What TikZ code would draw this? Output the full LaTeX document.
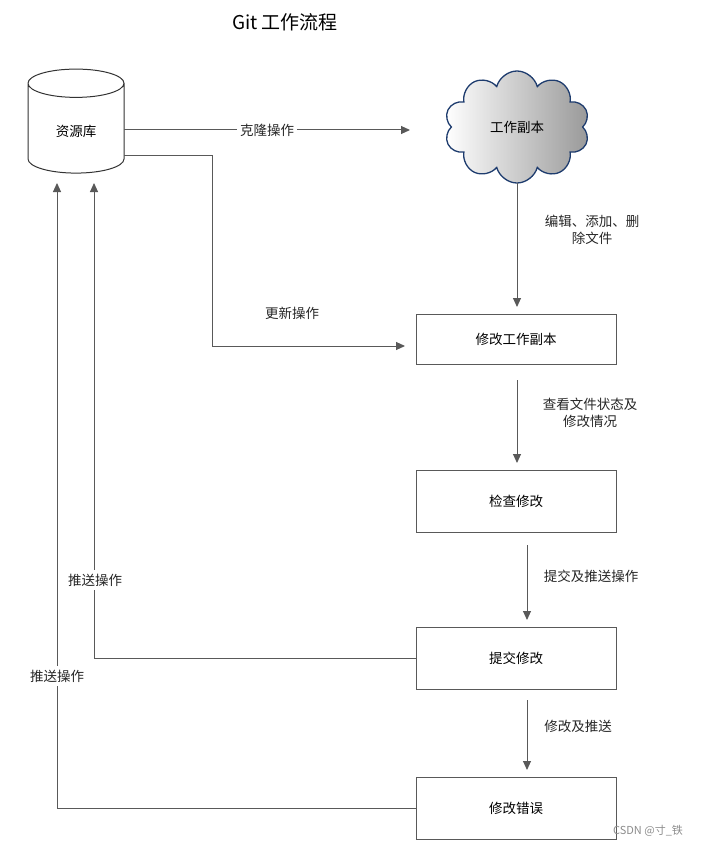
\documentclass[tikz,border=0pt]{standalone}
\usepackage{fontspec}
\setmainfont{Noto Sans CJK SC}
\usetikzlibrary{shapes.geometric,shapes.symbols,arrows.meta}
\begin{document}
\begin{tikzpicture}[x=1pt,y=-1pt,
  lbl/.style={font=\fontsize{13.5}{17}\selectfont,align=center,text=black!85},
  box/.style={draw=black!65,line width=0.8pt,minimum width=200pt,minimum height=62pt,font=\fontsize{13.5}{17}\selectfont},
  arr/.style={draw=black!65,line width=1pt,-{Triangle[length=9pt,width=8pt]}}]
\useasboundingbox (0,0) rectangle (709,848);
\node[font=\fontsize{19}{22}\selectfont] (title) at (285,22) {Git 工作流程};
\node[cylinder,shape border rotate=90,draw=black!80,line width=1pt,minimum width=96pt,minimum height=104pt,aspect=0.6,font=\fontsize{13.5}{17}\selectfont] (repo) at (76,131) {资源库};
\node[cloud,cloud puffs=10,aspect=1.25,draw={rgb,255:red,30;green,60;blue,110},line width=1.3pt,left color=white,right color=black!40,minimum width=145pt,minimum height=112pt,font=\fontsize{13.5}{17}\selectfont] (cloud) at (517,127) {工作副本};
\node[box,minimum height=50pt] (b1) at (516,339) {修改工作副本};
\node[box] (b2) at (516,501) {检查修改};
\node[box] (b3) at (516,658) {提交修改};
\node[box] (b4) at (516,808) {修改错误};
\coordinate (c1) at (410,130);
\draw[arr] (124,130) -- node[lbl,fill=white]{克隆操作} (c1);
\coordinate (u1) at (212,155);
\coordinate (u2) at (212,346);
\coordinate (u3) at (405,346);
\draw[arr] (124,155) -- (u1) -- (u2) -- (u3);
\node[lbl] (ul) at (292,313) {更新操作};
\draw[arr] (517,183) -- (517,307);
\node[lbl] (l1) at (592,230) {编辑、添加、删\\除文件};
\draw[arr] (517,380) -- (517,463);
\node[lbl] (l2) at (590,413) {查看文件状态及\\修改情况};
\draw[arr] (527,545) -- (527,620);
\node[lbl] (l3) at (591,576) {提交及推送操作};
\draw[arr] (527,700) -- (527,770);
\node[lbl] (l4) at (578,726) {修改及推送};
\coordinate (p1) at (94,658);
\draw[arr] (b3.west) -- (p1) -- (94,183);
\node[lbl,fill=white] (pl1) at (95,580) {推送操作};
\coordinate (p2) at (57,808);
\draw[arr] (b4.west) -- (p2) -- (57,183);
\node[lbl,fill=white] (pl2) at (57,676) {推送操作};
\node[font=\fontsize{11}{13}\selectfont,text=black!45] (wm) at (648,831) {CSDN @寸\_铁};
\end{tikzpicture}
\end{document}
